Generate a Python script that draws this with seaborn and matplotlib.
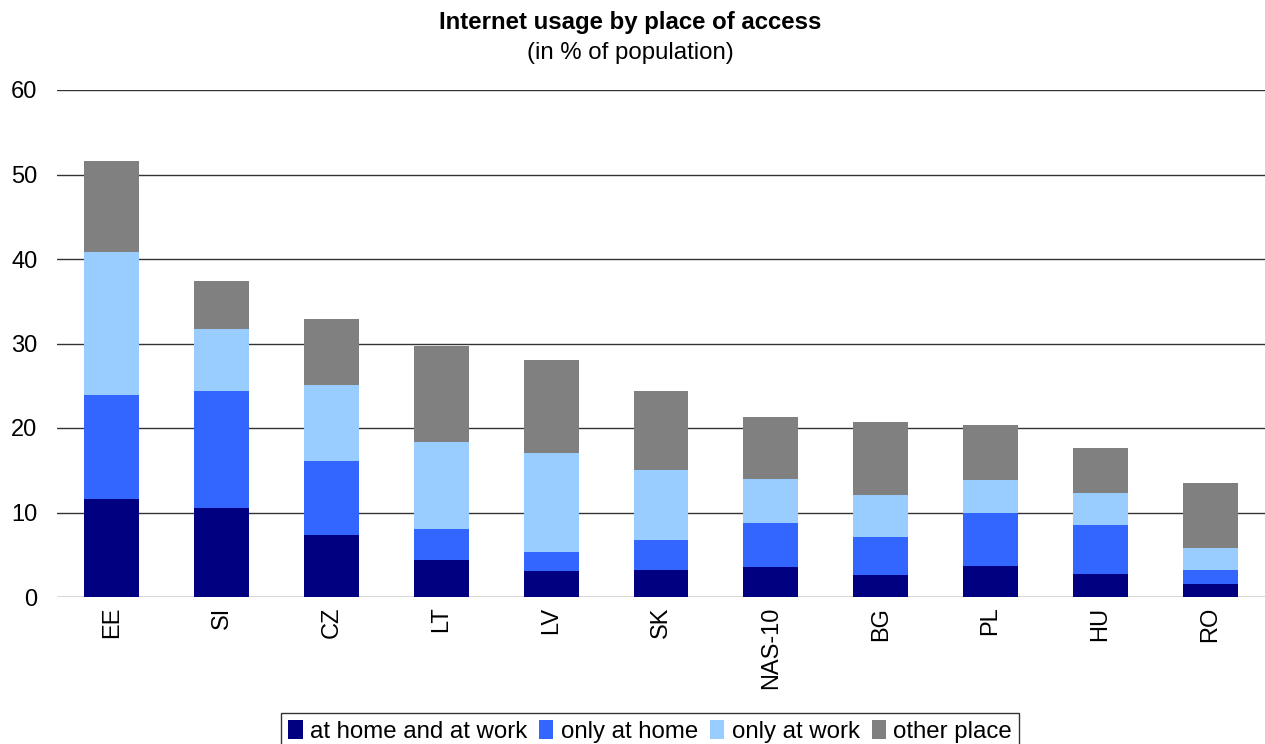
import matplotlib
matplotlib.use("Agg")
import matplotlib.pyplot as plt
from matplotlib.patches import Patch
import numpy as np
import pandas as pd
import seaborn as sns

# Internet usage by place of access, % of population
countries = ["EE", "SI", "CZ", "LT", "LV", "SK", "NAS-10", "BG", "PL", "HU", "RO"]
home_and_work = [11.65, 10.5, 7.3, 4.4, 3.1, 3.25, 3.6, 2.55, 3.65, 2.7, 1.5]
only_home = [12.2, 13.85, 8.75, 3.7, 2.25, 3.55, 5.2, 4.6, 6.25, 5.8, 1.65]
only_work = [16.95, 7.35, 9.0, 10.2, 11.75, 8.2, 5.2, 4.95, 3.9, 3.8, 2.7]
other_place = [10.8, 5.7, 7.8, 11.35, 10.9, 9.35, 7.35, 8.65, 6.5, 5.3, 7.6]

series_names = ["at home and at work", "only at home", "only at work", "other place"]
series_colors = ["#000080", "#3366FF", "#99CCFF", "#808080"]

sns.set_theme(style="white")
plt.rcParams["font.family"] = ["Liberation Sans", "DejaVu Sans"]
plt.rcParams["text.color"] = "black"

df = pd.DataFrame({
    "country": countries,
    series_names[0]: home_and_work,
    series_names[1]: only_home,
    series_names[2]: only_work,
    series_names[3]: other_place,
})
# cumulative tops for stacking
cum = df[series_names].cumsum(axis=1)

fig = plt.figure(figsize=(12.65, 7.44), dpi=100)
ax = fig.add_axes([57 / 1265, 1 - 597 / 744, 1 - 57 / 1265, (597 - 90) / 744])

# draw from the tallest stack level down so each segment shows on top
for name, color in reversed(list(zip(series_names, series_colors))):
    sns.barplot(x=df["country"], y=cum[name], color=color, width=0.5,
                saturation=1, ax=ax, zorder=3, linewidth=0)

ax.set_ylim(0, 60)
ax.set_xlim(-0.5, len(countries) - 0.5)
ax.set_yticks(np.arange(0, 61, 10))
ax.yaxis.grid(True, color="#333333", linewidth=1.0, zorder=0)
ax.xaxis.grid(False)
ax.set_axisbelow(True)
for s in ax.spines.values():
    s.set_visible(False)
ax.set_xlabel("")
ax.set_ylabel("")
ax.tick_params(axis="y", length=0, pad=14, labelsize=17, labelcolor="black")
ax.tick_params(axis="x", length=0, pad=7, labelsize=17, labelcolor="black",
               labelrotation=90)

fig.text(0.498, 1 - 23 / 744, "Internet usage by place of access",
         ha="center", va="center", fontsize=17.3, fontweight="bold", color="black")
fig.text(0.498, 1 - 53 / 744, "(in % of population)",
         ha="center", va="center", fontsize=17.3, color="black")

handles = [Patch(facecolor=c, edgecolor="none", label=n)
           for n, c in zip(series_names, series_colors)]
leg = fig.legend(handles=handles, loc="upper center",
                 bbox_to_anchor=(650 / 1265, 1 - 713 / 744),
                 ncol=4, fontsize=17.3, frameon=True, fancybox=False,
                 edgecolor="black", handlelength=0.6, handleheight=0.8,
                 handletextpad=0.3, columnspacing=0.5, borderpad=0.3,
                 borderaxespad=0, labelcolor="black")
leg.get_frame().set_linewidth(1.0)

fig.savefig("out.png", dpi=100)
